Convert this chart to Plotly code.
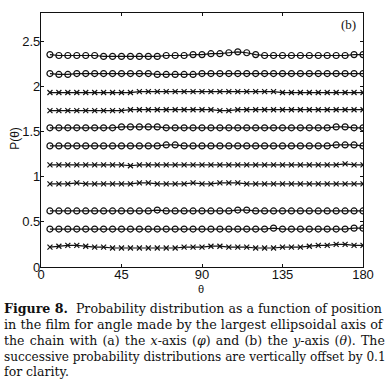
import plotly.graph_objects as go

theta = [5 * (i + 1) for i in range(36)]

s1 = [2.35, 2.34, 2.34, 2.34, 2.34, 2.34, 2.33, 2.33, 2.33, 2.33, 2.33, 2.33, 2.33, 2.34, 2.34, 2.34,
      2.35, 2.35, 2.36, 2.36, 2.37, 2.38, 2.37, 2.35, 2.34, 2.34, 2.34, 2.34, 2.34, 2.34, 2.34, 2.34,
      2.34, 2.34, 2.35, 2.35]
s2 = [2.14, 2.13, 2.13, 2.14, 2.14, 2.14, 2.14, 2.14, 2.14, 2.14, 2.14, 2.14, 2.13, 2.13, 2.13, 2.13,
      2.13, 2.14, 2.14, 2.14, 2.14, 2.14, 2.14, 2.14, 2.14, 2.14, 2.14, 2.14, 2.14, 2.14, 2.14, 2.14,
      2.14, 2.14, 2.14, 2.14]
s3 = [1.93, 1.93, 1.93, 1.93, 1.93, 1.93, 1.93, 1.93, 1.93, 1.93, 1.94, 1.94, 1.94, 1.94, 1.94, 1.94,
      1.94, 1.94, 1.94, 1.94, 1.94, 1.94, 1.94, 1.94, 1.94, 1.94, 1.93, 1.93, 1.93, 1.93, 1.93, 1.93,
      1.93, 1.93, 1.93, 1.93]
s4 = [1.73, 1.73, 1.73, 1.73, 1.73, 1.73, 1.73, 1.73, 1.73, 1.74, 1.74, 1.74, 1.74, 1.74, 1.74, 1.74,
      1.74, 1.74, 1.74, 1.73, 1.73, 1.74, 1.74, 1.74, 1.74, 1.74, 1.74, 1.74, 1.74, 1.74, 1.74, 1.74,
      1.74, 1.74, 1.74, 1.74]
s5 = [1.54, 1.54, 1.54, 1.54, 1.54, 1.54, 1.54, 1.54, 1.55, 1.55, 1.55, 1.55, 1.55, 1.54, 1.54, 1.54,
      1.54, 1.54, 1.54, 1.54, 1.54, 1.54, 1.54, 1.54, 1.54, 1.54, 1.54, 1.54, 1.54, 1.54, 1.54, 1.54,
      1.55, 1.55, 1.54, 1.54]
s6 = [1.34, 1.34, 1.34, 1.34, 1.34, 1.34, 1.34, 1.34, 1.34, 1.34, 1.34, 1.34, 1.34, 1.35, 1.35, 1.34,
      1.34, 1.34, 1.34, 1.34, 1.34, 1.34, 1.34, 1.34, 1.34, 1.34, 1.34, 1.34, 1.34, 1.34, 1.34, 1.34,
      1.35, 1.35, 1.35, 1.34]
s7 = [1.13, 1.13, 1.13, 1.13, 1.13, 1.13, 1.13, 1.13, 1.13, 1.12, 1.13, 1.13, 1.13, 1.13, 1.13, 1.13,
      1.13, 1.13, 1.13, 1.13, 1.13, 1.13, 1.13, 1.13, 1.13, 1.13, 1.13, 1.13, 1.13, 1.13, 1.13, 1.13,
      1.13, 1.14, 1.13, 1.13]
s8 = [0.92, 0.92, 0.92, 0.93, 0.92, 0.92, 0.92, 0.92, 0.92, 0.92, 0.93, 0.93, 0.92, 0.92, 0.92, 0.92,
      0.93, 0.92, 0.92, 0.93, 0.93, 0.93, 0.92, 0.92, 0.92, 0.92, 0.92, 0.92, 0.92, 0.92, 0.92, 0.92,
      0.92, 0.92, 0.92, 0.92]
s9 = [0.62, 0.62, 0.62, 0.62, 0.62, 0.62, 0.62, 0.62, 0.62, 0.62, 0.62, 0.62, 0.63, 0.62, 0.62, 0.62,
      0.62, 0.62, 0.62, 0.62, 0.62, 0.63, 0.63, 0.62, 0.62, 0.62, 0.62, 0.62, 0.62, 0.62, 0.62, 0.62,
      0.62, 0.62, 0.62, 0.62]
s10 = [0.42, 0.42, 0.42, 0.42, 0.42, 0.42, 0.42, 0.42, 0.42, 0.42, 0.42, 0.42, 0.42, 0.42, 0.42, 0.42,
       0.42, 0.42, 0.42, 0.42, 0.42, 0.42, 0.42, 0.42, 0.42, 0.43, 0.42, 0.42, 0.42, 0.42, 0.42, 0.42,
       0.42, 0.42, 0.43, 0.43]
s11 = [0.22, 0.23, 0.24, 0.24, 0.23, 0.22, 0.22, 0.21, 0.21, 0.21, 0.21, 0.21, 0.21, 0.21, 0.21, 0.22,
       0.22, 0.22, 0.23, 0.23, 0.22, 0.22, 0.22, 0.21, 0.21, 0.21, 0.22, 0.22, 0.22, 0.23, 0.24, 0.24,
       0.25, 0.25, 0.24, 0.24]

series = [s1, s2, s3, s4, s5, s6, s7, s8, s9, s10, s11]
symbols = ["circle-open", "circle-open", "x-thin-open", "x-thin-open", "circle-open", "circle-open",
           "x-thin-open", "x-thin-open", "circle-open", "circle-open", "x-thin-open"]

y_tickvals = [0, 0.5, 1, 1.5, 2, 2.5]
y_ticktext = ["0", "0.5", "1", "1.5", "2", "2.5"]
x_tickvals = [0, 45, 90, 135, 180]

HS = "\u200a"
caption_lines = [
    "<b>Figure 8.</b>  Probability distribution as a function of position",
    "in the film for angle made by the largest ellipsoidal axis of",
    ("the chain with (a) the <i>x</i>-axis (<i>φ</i>) and (b) the <i>y</i>-axis (<i>θ</i>). The"
     ).replace(" ", " " + HS),
    "successive probability distributions are vertically offset by 0.1",
    "for clarity.",
]
caption_sizes = [12.6, 12.8, 12.5, 12.1, 12.5]

fig = go.Figure()
for s, sym in zip(series, symbols):
    circ = sym.startswith("circle")
    fig.add_trace(go.Scatter(
        x=theta, y=s, mode="lines+markers",
        line=dict(color="#111111", width=1.2),
        marker=dict(symbol=sym, size=6 if circ else 5, color="#111111",
                    line=dict(width=1.2, color="#111111")),
        showlegend=False,
    ))

W, H = 386, 383
L, R, T, B = 41, 19, 12, 116
pw, ph = W - L - R, H - T - B


def px(x):
    return (x - L) / pw


def py(y):
    return (H - B - y) / ph


ann = []
ys = [309, 325, 341, 357, 372]
for line, yy, fs in zip(caption_lines, ys, caption_sizes):
    ann.append(dict(text=line, x=px(2), y=py(yy), xref="paper", yref="paper",
                    xanchor="left", yanchor="middle", showarrow=False,
                    font=dict(family="DejaVu Serif", size=fs, color="#111111")))
ann.append(dict(text="(b)", x=px(352), y=py(24), xref="paper", yref="paper",
                xanchor="center", yanchor="middle", showarrow=False,
                font=dict(family="Liberation Serif", size=13, color="#111111")))
ann.append(dict(text="P(θ)", x=px(14), y=py(138), xref="paper", yref="paper",
                xanchor="center", yanchor="middle", showarrow=False, textangle=-90,
                font=dict(family="Liberation Sans", size=12, color="#111111")))
ann.append(dict(text="θ", x=px(203), y=py(289), xref="paper", yref="paper",
                xanchor="center", yanchor="middle", showarrow=False,
                font=dict(family="Liberation Sans", size=11, color="#111111")))

axis_common = dict(showgrid=False, zeroline=False, showline=True, linecolor="#111111",
                   linewidth=1.3, mirror="ticks", ticks="inside", ticklen=3,
                   tickcolor="#111111", tickwidth=1,
                   tickfont=dict(family="Liberation Sans", size=13, color="#111111"))

fig.update_layout(
    width=W, height=H,
    margin=dict(l=L, r=R, t=T, b=B),
    paper_bgcolor="white", plot_bgcolor="white",
    xaxis=dict(range=[0, 180], tickvals=x_tickvals, ticklabelstandoff=-5, **axis_common),
    yaxis=dict(range=[0, 2.81], tickvals=y_tickvals, ticktext=y_ticktext,
               ticklabelstandoff=-3, **axis_common),
    annotations=ann,
)

fig.write_html("out.html", config={"displayModeBar": False},
               post_script="document.body.style.margin='0';document.body.style.padding='0';"
                           "document.body.style.overflow='hidden';")
